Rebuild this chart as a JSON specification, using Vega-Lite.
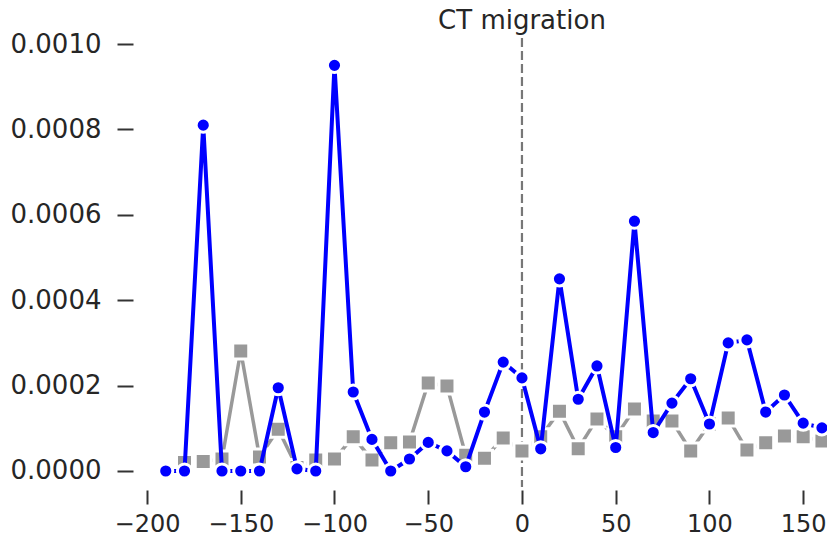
{
  "$schema": "https://vega.github.io/schema/vega-lite/v6.json",
  "width": 680,
  "height": 449,
  "autosize": "none",
  "padding": {"left": 147, "top": 38, "right": 0, "bottom": 63},
  "background": "white",
  "config": {
    "view": {"stroke": null},
    "font": "DejaVu Sans",
    "axis": {"grid": false, "domain": false, "labelFont": "DejaVu Sans", "labelFontSize": 26, "labelColor": "#262626", "tickColor": "#333333", "tickWidth": 2, "labelFlush": false, "labelOverlap": false}
  },
  "datasets": {
    "series": [
      {"x": -190, "s": "blue", "v": 0.0},
      {"x": -180, "s": "blue", "v": 0.0},
      {"x": -170, "s": "blue", "v": 0.00081},
      {"x": -160, "s": "blue", "v": 0.0},
      {"x": -150, "s": "blue", "v": 0.0},
      {"x": -140, "s": "blue", "v": 0.0},
      {"x": -130, "s": "blue", "v": 0.000195},
      {"x": -120, "s": "blue", "v": 0.000005},
      {"x": -110, "s": "blue", "v": 0.0},
      {"x": -100, "s": "blue", "v": 0.00095},
      {"x": -90, "s": "blue", "v": 0.000185},
      {"x": -80, "s": "blue", "v": 0.000074},
      {"x": -70, "s": "blue", "v": 0.0},
      {"x": -60, "s": "blue", "v": 0.000028},
      {"x": -50, "s": "blue", "v": 0.000067},
      {"x": -40, "s": "blue", "v": 0.000047},
      {"x": -30, "s": "blue", "v": 0.00001},
      {"x": -20, "s": "blue", "v": 0.000138},
      {"x": -10, "s": "blue", "v": 0.000255},
      {"x": 0, "s": "blue", "v": 0.000218},
      {"x": 10, "s": "blue", "v": 0.000052},
      {"x": 20, "s": "blue", "v": 0.00045},
      {"x": 30, "s": "blue", "v": 0.000168},
      {"x": 40, "s": "blue", "v": 0.000246},
      {"x": 50, "s": "blue", "v": 0.000055},
      {"x": 60, "s": "blue", "v": 0.000585},
      {"x": 70, "s": "blue", "v": 0.00009},
      {"x": 80, "s": "blue", "v": 0.000159},
      {"x": 90, "s": "blue", "v": 0.000216},
      {"x": 100, "s": "blue", "v": 0.00011},
      {"x": 110, "s": "blue", "v": 0.0003},
      {"x": 120, "s": "blue", "v": 0.000307},
      {"x": 130, "s": "blue", "v": 0.000138},
      {"x": 140, "s": "blue", "v": 0.000178},
      {"x": 150, "s": "blue", "v": 0.000112},
      {"x": 160, "s": "blue", "v": 0.000101},
      {"x": -180, "s": "gray", "v": 0.00002},
      {"x": -170, "s": "gray", "v": 0.000022},
      {"x": -160, "s": "gray", "v": 0.000028},
      {"x": -150, "s": "gray", "v": 0.000281},
      {"x": -140, "s": "gray", "v": 0.000033},
      {"x": -130, "s": "gray", "v": 0.000098},
      {"x": -120, "s": "gray", "v": 0.000008},
      {"x": -110, "s": "gray", "v": 0.000026},
      {"x": -100, "s": "gray", "v": 0.000028},
      {"x": -90, "s": "gray", "v": 0.00008},
      {"x": -80, "s": "gray", "v": 0.000026},
      {"x": -70, "s": "gray", "v": 0.000066},
      {"x": -60, "s": "gray", "v": 0.000068},
      {"x": -50, "s": "gray", "v": 0.000206},
      {"x": -40, "s": "gray", "v": 0.000199},
      {"x": -30, "s": "gray", "v": 0.000037},
      {"x": -20, "s": "gray", "v": 0.00003},
      {"x": -10, "s": "gray", "v": 0.000077},
      {"x": 0, "s": "gray", "v": 0.000047},
      {"x": 10, "s": "gray", "v": 0.00008},
      {"x": 20, "s": "gray", "v": 0.00014},
      {"x": 30, "s": "gray", "v": 0.000052},
      {"x": 40, "s": "gray", "v": 0.000122},
      {"x": 50, "s": "gray", "v": 0.00008},
      {"x": 60, "s": "gray", "v": 0.000145},
      {"x": 70, "s": "gray", "v": 0.000117},
      {"x": 80, "s": "gray", "v": 0.000117},
      {"x": 90, "s": "gray", "v": 0.000047},
      {"x": 100, "s": "gray", "v": 0.00011},
      {"x": 110, "s": "gray", "v": 0.000124},
      {"x": 120, "s": "gray", "v": 0.000049},
      {"x": 130, "s": "gray", "v": 0.000066},
      {"x": 140, "s": "gray", "v": 0.000082},
      {"x": 150, "s": "gray", "v": 0.00008},
      {"x": 160, "s": "gray", "v": 0.00007}
    ],
    "event": [{"x": 0, "y": 0.001055, "label": "CT migration"}]
  },
  "layer": [
    {
      "data": {"name": "event"},
      "mark": {"type": "rule", "color": "#777777", "strokeWidth": 2.2, "strokeDash": [9, 4]},
      "encoding": {
        "x": {
          "field": "x", "type": "quantitative",
          "scale": {"domain": [-200, 162.7], "nice": false, "zero": false},
          "axis": {"title": null, "values": [-200, -150, -100, -50, 0, 50, 100, 150], "offset": 3, "tickSize": 14, "labelPadding": 8, "labelFontSize": 24}
        }
      }
    },
    {
      "data": {"name": "event"},
      "mark": {"type": "text", "fontSize": 26, "font": "DejaVu Sans", "color": "#262626", "baseline": "middle", "align": "center"},
      "encoding": {
        "x": {"field": "x", "type": "quantitative"},
        "y": {
          "field": "y", "type": "quantitative",
          "scale": {"domain": [-0.0000375, 0.0010141], "nice": false, "zero": false},
          "axis": {"title": null, "values": [0, 0.0002, 0.0004, 0.0006, 0.0008, 0.001], "format": ".4f", "offset": 14, "tickSize": 16, "labelPadding": 16}
        },
        "text": {"field": "label"}
      }
    },
    {
      "data": {"name": "series"},
      "transform": [{"filter": "datum.s === 'gray'"}],
      "mark": {"type": "line", "color": "#999999", "strokeWidth": 3.5},
      "encoding": {"x": {"field": "x", "type": "quantitative"}, "y": {"field": "v", "type": "quantitative"}}
    },
    {
      "data": {"name": "series"},
      "transform": [{"filter": "datum.s === 'gray'"}],
      "mark": {"type": "point", "shape": "square", "filled": true, "fill": "#999999", "stroke": "white", "strokeWidth": 3, "size": 256, "opacity": 1},
      "encoding": {"x": {"field": "x", "type": "quantitative"}, "y": {"field": "v", "type": "quantitative"}}
    },
    {
      "data": {"name": "series"},
      "transform": [{"filter": "datum.s === 'blue'"}],
      "mark": {"type": "line", "color": "#0000ff", "strokeWidth": 4},
      "encoding": {"x": {"field": "x", "type": "quantitative"}, "y": {"field": "v", "type": "quantitative"}}
    },
    {
      "data": {"name": "series"},
      "transform": [{"filter": "datum.s === 'blue'"}],
      "mark": {"type": "point", "shape": "circle", "filled": true, "fill": "#0000ff", "stroke": "white", "strokeWidth": 3, "size": 201, "opacity": 1},
      "encoding": {"x": {"field": "x", "type": "quantitative"}, "y": {"field": "v", "type": "quantitative"}}
    }
  ]
}
